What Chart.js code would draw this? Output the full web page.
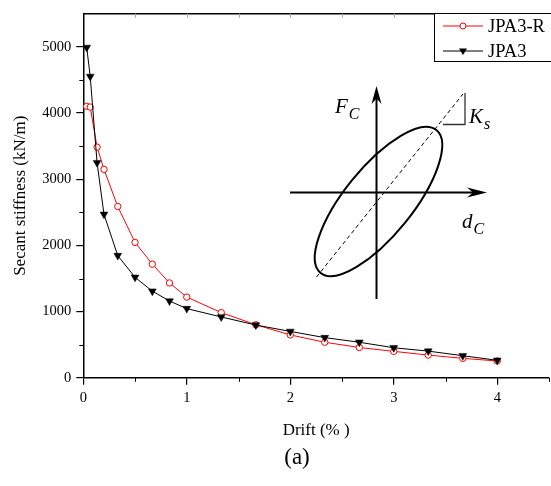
<!DOCTYPE html>
<html>
<head>
<meta charset="utf-8">
<script src="https://cdn.jsdelivr.net/npm/chart.js@4/dist/chart.umd.min.js"></script>
<style>
  html, body { margin: 0; padding: 0; background: #fff; overflow: hidden; }
  canvas { display: block; }
</style>
</head>
<body>
<canvas id="canvas" width="554" height="486"></canvas>
<script>
//! ------------------------ data ------------------------
const drift = [0.033, 0.067, 0.133, 0.2, 0.333, 0.5, 0.667, 0.833, 1.0, 1.333, 1.667, 2.0, 2.333, 2.667, 3.0, 3.333, 3.667, 4.0];
const jpa3R = [4100, 4090, 3484, 3149, 2588, 2045, 1716, 1433, 1219, 985, 801, 648, 537, 458, 399, 343, 294, 254];
const jpa3 = [4990, 4552, 3250, 2469, 1846, 1518, 1309, 1160, 1045, 919, 797, 701, 607, 537, 454, 403, 334, 264];
const xTicks = [0, 1, 2, 3, 4];
const yTicks = [0, 1000, 2000, 3000, 4000, 5000];
const seriesNames = ["JPA3-R", "JPA3"];

const serif = "'Liberation Serif', 'Times New Roman', serif";

const toPoints = (xs, ys) => xs.map((x, i) => ({ x: x, y: ys[i] }));

//! ------------------------ extra drawing (ticks, frame, legend, inset) ------------------------
const arrow = (ctx, x1, y1, x2, y2, len, half) => {
  const ang = Math.atan2(y2 - y1, x2 - x1);
  ctx.beginPath();
  ctx.moveTo(x1, y1);
  ctx.lineTo(x2 - Math.cos(ang) * len * 0.6, y2 - Math.sin(ang) * len * 0.6);
  ctx.stroke();
  ctx.save();
  ctx.translate(x2, y2);
  ctx.rotate(ang);
  ctx.beginPath();
  ctx.moveTo(0, 0);
  ctx.lineTo(-len, -half);
  ctx.lineTo(-len * 0.7, 0);
  ctx.lineTo(-len, half);
  ctx.closePath();
  ctx.fill();
  ctx.restore();
};

const subText = (ctx, main, sub, x, y, size) => {
  ctx.font = `italic ${size}px ${serif}`;
  ctx.fillText(main, x, y);
  const w = ctx.measureText(main).width;
  ctx.font = `italic ${Math.round(size * 0.78)}px ${serif}`;
  ctx.fillText(sub, x + w + 1, y + size * 0.3);
};

const extrasPlugin = {
  id: "extras",
  afterDraw(chart) {
    const ctx = chart.ctx;
    const xs = chart.scales.x;
    const ys = chart.scales.y;
    const area = chart.chartArea;
    ctx.save();

    // minor ticks
    ctx.strokeStyle = "#000";
    ctx.lineWidth = 1;
    for (let v = 0.5; v <= 4.5; v += 1) {
      const px = Math.round(xs.getPixelForValue(v)) + 0.5;
      ctx.beginPath();
      ctx.moveTo(px, area.bottom);
      ctx.lineTo(px, area.bottom + 4);
      ctx.stroke();
    }
    for (let v = 500; v <= 5000; v += 1000) {
      const py = Math.round(ys.getPixelForValue(v)) + 0.5;
      ctx.beginPath();
      ctx.moveTo(area.left, py);
      ctx.lineTo(area.left - 4, py);
      ctx.stroke();
    }

    // top frame with light ticks
    ctx.lineWidth = 1.5;
    ctx.beginPath();
    ctx.moveTo(area.left, area.top);
    ctx.lineTo(area.right, area.top);
    ctx.stroke();
    ctx.strokeStyle = "#aaa";
    ctx.lineWidth = 1;
    for (let v = 0.5; v <= 4.5; v += 0.5) {
      const px = Math.round(xs.getPixelForValue(v)) + 0.5;
      ctx.beginPath();
      ctx.moveTo(px, area.top);
      ctx.lineTo(px, area.top + 4);
      ctx.stroke();
    }

    // legend
    ctx.fillStyle = "#fff";
    ctx.fillRect(434.5, 13.5, 130, 48);
    ctx.strokeStyle = "#000";
    ctx.lineWidth = 1;
    ctx.strokeRect(434.5, 13.5, 130, 48);
    const rows = [
      { name: seriesNames[0], color: "#ff0000", y: 26, style: "circle" },
      { name: seriesNames[1], color: "#000", y: 51, style: "triangle" },
    ];
    rows.forEach((r) => {
      ctx.strokeStyle = r.color;
      ctx.lineWidth = 1;
      ctx.beginPath();
      ctx.moveTo(443, r.y);
      ctx.lineTo(483, r.y);
      ctx.stroke();
      if (r.style === "circle") {
        ctx.fillStyle = "#fff";
        ctx.beginPath();
        ctx.arc(463, r.y, 3, 0, Math.PI * 2);
        ctx.fill();
        ctx.stroke();
      } else {
        ctx.fillStyle = "#000";
        ctx.beginPath();
        ctx.moveTo(463, r.y + 4);
        ctx.lineTo(459, r.y - 2.5);
        ctx.lineTo(467, r.y - 2.5);
        ctx.closePath();
        ctx.fill();
      }
      ctx.fillStyle = "#000";
      ctx.font = `18.5px ${serif}`;
      ctx.textBaseline = "middle";
      ctx.textAlign = "left";
      ctx.fillText(r.name, 488, r.y + 1);
    });

    // inset: hysteresis sketch
    ctx.strokeStyle = "#000";
    ctx.fillStyle = "#000";
    ctx.lineWidth = 2;
    arrow(ctx, 376.5, 299, 376.5, 86, 18, 5);
    arrow(ctx, 290, 192.5, 487, 192.5, 20, 5);

    ctx.beginPath();
    ctx.ellipse(378.5, 201.5, 92, 34, -51 * Math.PI / 180, 0, Math.PI * 2);
    ctx.stroke();

    ctx.lineWidth = 1;
    ctx.setLineDash([4, 3]);
    ctx.beginPath();
    ctx.moveTo(316.5, 277);
    ctx.lineTo(463, 94);
    ctx.stroke();
    ctx.setLineDash([]);

    ctx.strokeStyle = "#333";
    ctx.lineWidth = 1.3;
    ctx.beginPath();
    ctx.moveTo(465, 93);
    ctx.lineTo(465, 124.5);
    ctx.lineTo(443, 124.5);
    ctx.stroke();

    ctx.textBaseline = "alphabetic";
    ctx.textAlign = "left";
    subText(ctx, "F", "C", 335, 113, 21);
    subText(ctx, "K", "s", 469, 122.5, 21);
    subText(ctx, "d", "C", 462, 228, 21);

    // panel label
    ctx.font = `23px ${serif}`;
    ctx.textAlign = "center";
    ctx.textBaseline = "middle";
    ctx.fillText("(a)", 297, 458);

    ctx.restore();
  },
};

//! ------------------------ chart ------------------------
const config = {
  type: "line",
  data: {
    datasets: [
      {
        label: seriesNames[1],
        data: toPoints(drift, jpa3),
        borderColor: "#000",
        backgroundColor: "#000",
        borderWidth: 1,
        pointStyle: "triangle",
        pointRotation: 180,
        pointRadius: 4.5,
        pointBorderWidth: 0.5,
        pointBackgroundColor: "#000",
        tension: 0,
      },
      {
        label: seriesNames[0],
        data: toPoints(drift, jpa3R),
        borderColor: "#ff0000",
        backgroundColor: "#fff",
        borderWidth: 1,
        pointStyle: "circle",
        pointRadius: 3.2,
        pointBorderWidth: 1,
        pointBackgroundColor: "#fff",
        tension: 0,
      },
    ],
  },
  options: {
    responsive: false,
    animation: false,
    layout: { padding: { top: 7.5, right: 1.6, left: 0, bottom: 0 } },
    plugins: {
      legend: { display: false },
      tooltip: { enabled: false },
    },
    scales: {
      x: {
        type: "linear",
        min: 0,
        max: 4.5,
        afterFit: (scale) => { scale.height = 108.2; },
        afterBuildTicks: (scale) => { scale.ticks = xTicks.map((v) => ({ value: v })); },
        ticks: {
          includeBounds: false,
          color: "#000",
          padding: 5,
          maxRotation: 0,
          callback: (v) => String(v),
          font: { family: serif, size: 14.5 },
        },
        grid: {
          drawOnChartArea: false,
          drawTicks: true,
          tickLength: 7,
          color: "#000",
          lineWidth: 1.2,
        },
        border: { color: "#000", width: 1.5 },
        title: {
          display: true,
          text: "Drift (% )",
          color: "#000",
          font: { family: serif, size: 17 },
          padding: { top: 0, bottom: 44.8 },
        },
      },
      y: {
        type: "linear",
        min: 0,
        max: 5500,
        afterFit: (scale) => { scale.width = 83.3; },
        afterBuildTicks: (scale) => { scale.ticks = yTicks.map((v) => ({ value: v })); },
        ticks: {
          includeBounds: false,
          color: "#000",
          padding: 5,
          callback: (v) => String(v),
          font: { family: serif, size: 14.5 },
        },
        grid: {
          drawOnChartArea: false,
          drawTicks: true,
          tickLength: 7,
          color: "#000",
          lineWidth: 1.2,
        },
        border: { color: "#000", width: 1.5 },
        title: {
          display: true,
          text: "Secant stiffness (kN/m)",
          color: "#000",
          font: { family: serif, size: 17 },
          padding: { top: 10, bottom: 0 },
        },
      },
    },
  },
  plugins: [extrasPlugin],
};

const myChart = new Chart(document.getElementById("canvas"), config);
</script>
</body>
</html>
